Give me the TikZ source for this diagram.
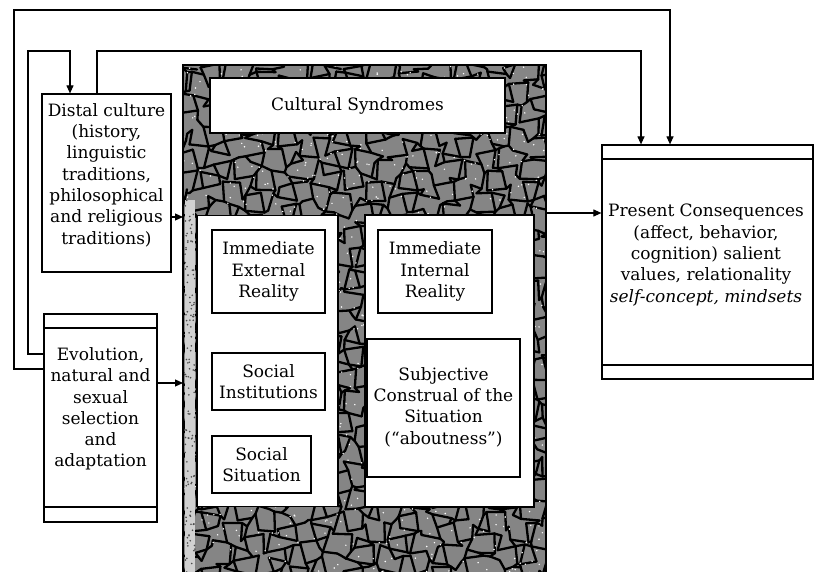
\documentclass[tikz,border=0pt]{standalone}
\usepackage{fontspec}
\setmainfont{DejaVu Serif}
\usetikzlibrary{arrows.meta}
\begin{document}
\begin{tikzpicture}[x=1pt,y=-1pt,
  box/.style={draw=black, fill=white, line width=1.2pt, inner sep=0pt},
  txt/.style={font=\fontsize{17}{21.3}\selectfont, align=center, inner sep=0pt},
  arr/.style={line width=1.1pt, -{Triangle[length=8pt,width=7pt]}},
  tex/.style={line width=2.3pt, black, line cap=round, line join=round}]
\useasboundingbox (0,0) rectangle (814,572);
\fill[white] (0,0) rectangle (814,572);

% shaded frame
\node[draw=black, fill=black!48, line width=1.2pt, inner sep=0pt,
      minimum width=363pt, minimum height=515pt, anchor=north west] (cs) at (183,65) {};
\begin{scope}
\clip (183,65) rectangle (546,580);
\foreach \i in {0,...,33}{
 \foreach \j in {0,...,47}{
  \pgfmathsetmacro\ax{183+11*\i+4.5*sin(137*\i+71*\j)}
  \pgfmathsetmacro\ay{65+11*\j+4.5*sin(53*\i+197*\j+40)}
  \pgfmathsetmacro\bx{183+11*(\i+1)+4.5*sin(137*(\i+1)+71*\j)}
  \pgfmathsetmacro\by{65+11*\j+4.5*sin(53*(\i+1)+197*\j+40)}
  \pgfmathsetmacro\cx{183+11*\i+4.5*sin(137*\i+71*(\j+1))}
  \pgfmathsetmacro\cy{65+11*(\j+1)+4.5*sin(53*\i+197*(\j+1)+40)}
  \pgfmathsetmacro\sa{sin(131*\i+173*\j)}
  \pgfmathsetmacro\sb{sin(83*\i+151*\j+17)}
  \ifdim\sa pt<0.55pt \draw[tex] (\ax,\ay) -- (\bx,\by); \fi
  \ifdim\sb pt<0.55pt \draw[tex] (\ax,\ay) -- (\cx,\cy); \fi
 }}
\pgfmathsetseed{11}
\foreach \k in {1,...,900}{\fill[white] ({183+363*rnd},{65+510*rnd}) circle (0.8);}
\fill[black!18] (185,200) rectangle (195,575);
\foreach \k in {1,...,120}{\fill[black!70] ({185+10*rnd},{200+375*rnd}) circle (0.9);}
\end{scope}
\draw[line width=1.2pt] (183,580) -- (183,65) -- (546,65) -- (546,580);

% boxes
\node[box, minimum width=295pt, minimum height=55pt] (syn) at (357.5,105.5) {};
\node[txt] (syn-t) at (syn.center) {Cultural Syndromes};

\node[box, minimum width=141pt, minimum height=291pt] (lp) at (267.5,361) {};
\node[box, minimum width=169pt, minimum height=292pt] (rp) at (449.5,361) {};

\node[box, minimum width=113pt, minimum height=83pt] (ext) at (268.5,271.5) {};
\node[txt] (ext-t) at (ext.center) {Immediate\\External\\Reality};
\node[box, minimum width=113pt, minimum height=57pt] (inst) at (268.5,381.5) {};
\node[txt] (inst-t) at (inst.center) {Social\\Institutions};
\node[box, minimum width=99pt, minimum height=57pt] (sit) at (261.5,464.5) {};
\node[txt] (sit-t) at (sit.center) {Social\\Situation};

\node[box, minimum width=114pt, minimum height=83pt] (int) at (435,271.5) {};
\node[txt] (int-t) at (int.center) {Immediate\\Internal\\Reality};
\node[box, minimum width=153pt, minimum height=138pt] (sub) at (443.5,408) {};
\node[txt] (sub-t) at (443.5,407) {Subjective\\Construal of the\\Situation\\(“aboutness”)};

\node[box, minimum width=129pt, minimum height=178pt] (dis) at (106.5,183) {};
\node[txt] (dis-t) at (106.5,175) {Distal culture\\(history,\\linguistic\\traditions,\\philosophical\\and religious\\traditions)};

\node[box, minimum width=113pt, minimum height=208pt] (evo) at (100.5,418) {};
\draw[line width=1.2pt] (evo.north west |- 0,328) -- (evo.north east |- 0,328);
\draw[line width=1.2pt] (evo.south west |- 0,507) -- (evo.south east |- 0,507);
\node[txt] (evo-t) at (100.5,409) {Evolution,\\natural and\\sexual\\selection\\and\\adaptation};

\node[box, minimum width=211pt, minimum height=234pt] (pres) at (707.5,262) {};
\draw[line width=1.2pt] (pres.north west |- 0,159) -- (pres.north east |- 0,159);
\draw[line width=1.2pt] (pres.south west |- 0,365) -- (pres.south east |- 0,365);
\node[txt] (pres-t) at (706,255) {Present Consequences\\(affect, behavior,\\cognition) salient\\values, relationality\\\textit{self-concept, mindsets}};

% connectors
\coordinate (y369) at (0,369);
\coordinate (y354) at (0,354);
\coordinate (y10) at (0,10);
\coordinate (y51) at (0,51);
\coordinate (x14) at (14,0);
\coordinate (x28) at (28,0);
\coordinate (x70) at (70,0);
\coordinate (x97) at (97,0);
\coordinate (x641) at (641,0);
\coordinate (x670) at (670,0);
\coordinate (y217) at (0,217);
\coordinate (y383) at (0,383);
\coordinate (y213) at (0,213);

\draw[arr] (evo.west |- y369) -- (x14 |- y369) -- (x14 |- y10) -- (x670 |- y10) -- (x670 |- pres.north);
\draw[arr] (evo.west |- y354) -- (x28 |- y354) -- (x28 |- y51) -- (x70 |- y51) -- (x70 |- dis.north);
\draw[arr] (x97 |- dis.north) -- (x97 |- y51) -- (x641 |- y51) -- (x641 |- pres.north);
\draw[arr] (dis.east |- y217) -- (cs.west |- y217);
\draw[arr] (evo.east |- y383) -- (cs.west |- y383);
\draw[arr] (cs.east |- y213) -- (pres.west |- y213);
\end{tikzpicture}
\end{document}
